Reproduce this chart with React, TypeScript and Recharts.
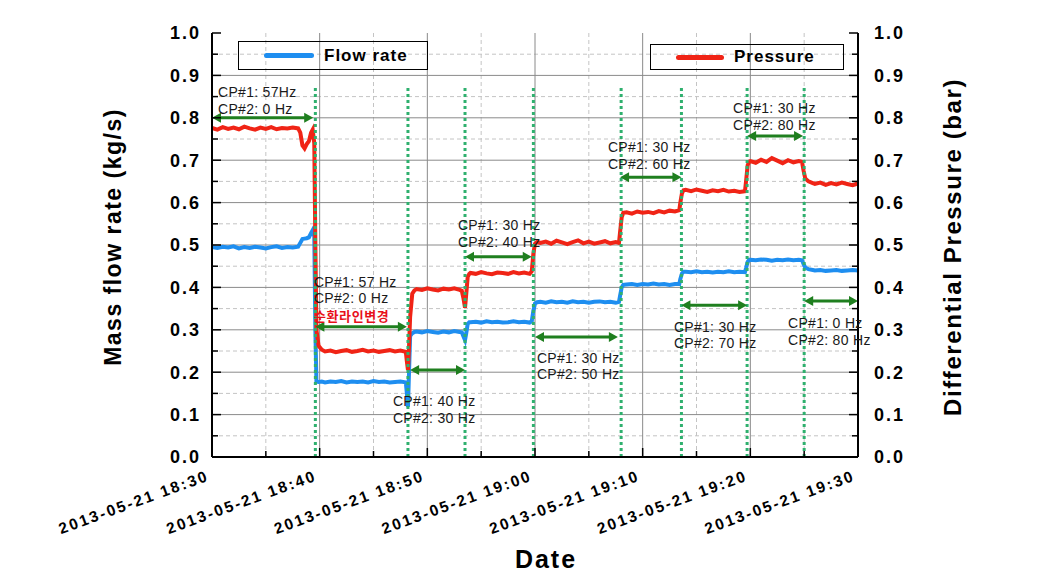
import React from 'react';
import { LineChart, Line, XAxis, YAxis, ReferenceLine, ReferenceDot } from 'recharts';

// minutes after 2013-05-21 18:30
const times = [
  0, 0.5, 1, 1.5, 2, 2.5, 3, 3.5, 4, 4.5, 5, 5.5, 6, 6.5, 7, 7.5, 8,
  8.2, 8.4, 8.6, 8.8, 9, 9.2, 9.35, 9.5, 9.6, 9.7, 9.9,
  10.2, 10.5, 11, 11.5, 12, 12.5, 13, 13.5, 14, 14.5, 15, 15.5, 16, 16.5, 17, 17.5, 18,
  18.1, 18.2, 18.3, 18.4, 18.6, 18.8,
  19, 19.5, 20, 20.5, 21, 21.5, 22, 22.5, 23, 23.2,
  23.35, 23.5, 23.6, 23.75, 23.9,
  24, 24.5, 25, 25.5, 26, 26.5, 27, 27.5, 28, 28.5, 29, 29.5, 29.7,
  29.85, 30, 30.2,
  30.5, 31, 31.5, 32, 32.5, 33, 33.5, 34, 34.5, 35, 35.5, 36, 36.5, 37, 37.5, 37.8,
  37.9, 38.05, 38.2,
  38.5, 39, 39.5, 40, 40.5, 41, 41.5, 42, 42.5, 43, 43.4,
  43.5, 43.65, 43.8,
  44, 44.5, 45, 45.5, 46, 46.5, 47, 47.5, 48, 48.5, 49, 49.5,
  49.6, 49.75, 49.9,
  50, 50.5, 51, 51.5, 52, 52.5, 53, 53.5, 54, 54.5, 54.8,
  54.95, 55.1, 55.4, 55.8,
  56, 56.5, 57, 57.5, 58, 58.5, 59, 59.5, 60,
];

const flowRate = [
  0.495, 0.493, 0.496, 0.494, 0.497, 0.492, 0.495, 0.493, 0.496, 0.494, 0.492, 0.495, 0.497, 0.493, 0.495, 0.494, 0.496,
  0.505, 0.514, 0.515, 0.516, 0.518, 0.528, 0.535, 0.52, 0.3, 0.178, 0.177,
  0.178, 0.176, 0.178, 0.177, 0.179, 0.176, 0.178, 0.177, 0.178, 0.176, 0.179, 0.177, 0.178, 0.176, 0.177, 0.178, 0.176,
  0.15, 0.118, 0.2, 0.285, 0.292, 0.295,
  0.296, 0.294, 0.297, 0.295, 0.293, 0.296, 0.294, 0.297, 0.295, 0.294,
  0.285, 0.276, 0.29, 0.314, 0.318,
  0.318, 0.319, 0.317, 0.32, 0.318, 0.319, 0.317, 0.318, 0.32, 0.318, 0.319, 0.317, 0.32,
  0.345, 0.362, 0.365,
  0.366, 0.364, 0.367, 0.365, 0.366, 0.364, 0.367, 0.365, 0.366, 0.364, 0.366, 0.367, 0.365, 0.366, 0.364, 0.366,
  0.38, 0.4, 0.406,
  0.407, 0.408, 0.406, 0.408, 0.407, 0.409, 0.407, 0.408, 0.406, 0.408, 0.408,
  0.42, 0.433, 0.437,
  0.437, 0.436, 0.438, 0.436, 0.437, 0.435, 0.437, 0.436, 0.438, 0.436, 0.437, 0.436,
  0.445, 0.46, 0.465,
  0.465, 0.464, 0.466, 0.465, 0.463, 0.465, 0.464, 0.466, 0.464, 0.465, 0.464,
  0.455, 0.447, 0.443, 0.441,
  0.44, 0.441, 0.439, 0.44, 0.441, 0.439, 0.44, 0.441, 0.44,
];

const pressure = [
  0.776, 0.772, 0.778, 0.774, 0.777, 0.773, 0.779, 0.775, 0.772, 0.777, 0.774, 0.778, 0.773, 0.776, 0.775, 0.777, 0.775,
  0.765, 0.735, 0.728, 0.738, 0.745, 0.765, 0.772, 0.74, 0.5, 0.3, 0.262,
  0.253, 0.249, 0.251, 0.247, 0.25, 0.252, 0.248, 0.25, 0.253, 0.249, 0.251, 0.248, 0.25, 0.252, 0.249, 0.251, 0.248,
  0.225, 0.205, 0.26, 0.33, 0.385, 0.393,
  0.396, 0.394, 0.398, 0.395, 0.393, 0.397, 0.395, 0.398, 0.394, 0.392,
  0.375, 0.352, 0.38, 0.425, 0.432,
  0.434, 0.432, 0.436, 0.433, 0.431, 0.435, 0.434, 0.432, 0.436, 0.433, 0.435, 0.432, 0.438,
  0.48, 0.503, 0.507,
  0.505, 0.508, 0.503, 0.51, 0.506, 0.502, 0.507, 0.511, 0.504, 0.508, 0.503, 0.506, 0.509, 0.504, 0.507, 0.505,
  0.53, 0.565, 0.576,
  0.577, 0.574, 0.579, 0.576, 0.578, 0.575, 0.58, 0.577, 0.581, 0.579, 0.582,
  0.6, 0.622, 0.629,
  0.63, 0.627, 0.631, 0.628, 0.625, 0.629, 0.627, 0.63, 0.626, 0.628, 0.625, 0.627,
  0.65, 0.688, 0.697,
  0.698, 0.694, 0.701, 0.696, 0.705, 0.699, 0.693, 0.7, 0.695, 0.698, 0.696,
  0.675, 0.657, 0.65, 0.646,
  0.644, 0.647, 0.642, 0.646, 0.643, 0.647, 0.644, 0.641, 0.645,
];

const xTickLabels = [
  '2013-05-21 18:30', '2013-05-21 18:40', '2013-05-21 18:50', '2013-05-21 19:00',
  '2013-05-21 19:10', '2013-05-21 19:20', '2013-05-21 19:30',
];
const xTicks = [0, 5, 10, 15, 20, 25, 30, 35, 40, 45, 50, 55, 60];
const yTicks = [0, 0.05, 0.1, 0.15, 0.2, 0.25, 0.3, 0.35, 0.4, 0.45, 0.5, 0.55, 0.6, 0.65, 0.7, 0.75, 0.8, 0.85, 0.9, 0.95, 1];
const yTickLabels = ['0.0', '0.1', '0.2', '0.3', '0.4', '0.5', '0.6', '0.7', '0.8', '0.9', '1.0'];

const majorGridX = [10, 20, 30, 40, 50];
const minorGridX = [5, 15, 25, 35, 45, 55];
const majorGridY = [0.1, 0.2, 0.3, 0.4, 0.5, 0.6, 0.7, 0.8, 0.9];
const minorGridY = [0.05, 0.15, 0.25, 0.35, 0.45, 0.55, 0.65, 0.75, 0.85, 0.95];

// pump setting change times (dotted markers)
const switchTimes = [9.6, 18.2, 23.5, 29.85, 38.0, 43.6, 49.7, 55.0];
const switchTop = 0.87;

// double arrows: start, end, level
const arrowStart = [0, 9.6, 18.4, 23.5, 30.0, 37.9, 43.6, 49.7, 55.0];
const arrowEnd = [9.4, 18.1, 23.5, 29.7, 37.7, 43.6, 49.7, 54.9, 60];
const arrowLevel = [0.8, 0.307, 0.205, 0.472, 0.283, 0.66, 0.358, 0.757, 0.368];

// annotation text anchors (first line baseline)
const noteTime = [0.56, 9.47, 16.8, 22.84, 30.18, 36.77, 42.9, 48.4, 53.5];
const noteValue = [0.849, 0.401, 0.12, 0.535, 0.222, 0.719, 0.295, 0.811, 0.304];
const noteLines = [
  ['CP#1: 57Hz', 'CP#2: 0 Hz'],
  ['CP#1: 57 Hz', 'CP#2: 0 Hz', '순환라인변경'],
  ['CP#1: 40 Hz', 'CP#2: 30 Hz'],
  ['CP#1: 30 Hz', 'CP#2: 40 Hz'],
  ['CP#1: 30 Hz', 'CP#2: 50 Hz'],
  ['CP#1: 30 Hz', 'CP#2: 60 Hz'],
  ['CP#1: 30 Hz', 'CP#2: 70 Hz'],
  ['CP#1: 30 Hz', 'CP#2: 80 Hz'],
  ['CP#1: 0 Hz', 'CP#2: 80 Hz'],
];

const data = times.map((t, i) => ({ t, flow: flowRate[i], pressure: pressure[i] }));

const FONT = "Arial, 'Liberation Sans', sans-serif";
const CJK_FONT = "'Noto Sans CJK KR', sans-serif";
const BLUE = '#1e8ef0';
const RED = '#f02416';
const GREEN = '#1f7f1f';
const DOTGREEN = '#2fb06e';

const isMajorY = (v: number) => Math.round(v * 100) % 10 === 0;
const isKorean = (s: string) => /[가-힣]/.test(s);

const BottomTick = (props: any) => {
  const { x, y, payload } = props;
  const v = payload.value;
  const major = v % 10 === 0;
  const lx = x - 2;
  const ly = y + 23;
  return (
    <g>
      <line x1={x} y1={y} x2={x} y2={y - (major ? 9 : 6)} stroke="#000" strokeWidth={1.5} />
      {major && (
        <text
          x={lx}
          y={ly}
          textAnchor="end"
          transform={`rotate(-20 ${lx} ${ly})`}
          fontFamily={FONT}
          fontWeight="bold"
          fontSize={15.5}
          letterSpacing={2.2}
          fill="#000"
        >
          {xTickLabels[v / 10]}
        </text>
      )}
    </g>
  );
};

const TopTick = (props: any) => {
  const { x, y, payload } = props;
  const major = payload.value % 10 === 0;
  return <line x1={x} y1={y} x2={x} y2={y + (major ? 9 : 6)} stroke="#000" strokeWidth={1.5} />;
};

const LeftTick = (props: any) => {
  const { x, y, payload } = props;
  const v = payload.value;
  const major = isMajorY(v);
  return (
    <g>
      <line x1={x} y1={y} x2={x + (major ? 9 : 6)} y2={y} stroke="#000" strokeWidth={1.5} />
      {major && (
        <text x={x - 11} y={y} dy="0.36em" textAnchor="end" fontFamily={FONT} fontWeight="bold" fontSize={18} letterSpacing={2} fill="#000">
          {yTickLabels[Math.round(v * 10)]}
        </text>
      )}
    </g>
  );
};

const RightTick = (props: any) => {
  const { x, y, payload } = props;
  const v = payload.value;
  const major = isMajorY(v);
  return (
    <g>
      <line x1={x} y1={y} x2={x - (major ? 9 : 6)} y2={y} stroke="#000" strokeWidth={1.5} />
      {major && (
        <text x={x + 16} y={y} dy="0.36em" textAnchor="start" fontFamily={FONT} fontWeight="bold" fontSize={18} letterSpacing={2} fill="#000">
          {yTickLabels[Math.round(v * 10)]}
        </text>
      )}
    </g>
  );
};

const DoubleArrow = (p: any) => {
  const { x1, y1, x2, y2 } = p;
  const h = 9;
  const w = 5;
  return (
    <g>
      <line x1={x1 + h - 1} y1={y1} x2={x2 - h + 1} y2={y2} stroke={GREEN} strokeWidth={3} />
      <polygon points={`${x1},${y1} ${x1 + h},${y1 - w} ${x1 + h},${y1 + w}`} fill={GREEN} />
      <polygon points={`${x2},${y2} ${x2 - h},${y2 - w} ${x2 - h},${y2 + w}`} fill={GREEN} />
    </g>
  );
};

const makeNote = (lines: string[]) => (p: any) => (
  <g>
    {lines.map((s, i) => (
      <text
        key={i}
        x={p.cx}
        y={p.cy + i * 16.5 + (isKorean(s) ? 1 : 0)}
        fontFamily={isKorean(s) ? CJK_FONT : FONT}
        fontSize={isKorean(s) ? 13 : 14}
        letterSpacing={isKorean(s) ? 0.6 : 0.3}
        fill={isKorean(s) ? '#e8101a' : '#1a1a1a'}
        fontWeight={isKorean(s) ? 'bold' : 'normal'}
      >
        {s}
      </text>
    ))}
  </g>
);

const LeftTitle = () => (
  <text x={105} y={229} transform="rotate(-90 105 229)" textAnchor="middle" dominantBaseline="central" fontFamily={FONT} fontWeight="bold" fontSize={23} letterSpacing={1.5} fill="#000">
    Mass flow rate (kg/s)
  </text>
);
const RightTitle = () => (
  <text x={944} y={239} transform="rotate(-90 944 239)" textAnchor="middle" dominantBaseline="central" fontFamily={FONT} fontWeight="bold" fontSize={24} letterSpacing={1.6} fill="#000">
    Differential Pressure (bar)
  </text>
);
const BottomTitle = () => (
  <text x={538} y={560} textAnchor="middle" fontFamily={FONT} fontWeight="bold" fontSize={25} letterSpacing={2} fill="#000">
    Date
  </text>
);

const legendBox: React.CSSProperties = {
  position: 'absolute',
  border: '1px solid #000',
  boxSizing: 'border-box',
  display: 'flex',
  alignItems: 'center',
  fontFamily: FONT,
  fontWeight: 'bold',
  fontSize: 17,
  letterSpacing: 1,
  color: '#000',
};

export default function App() {
  return (
    <div style={{ position: 'relative', width: 1040, height: 575 }}>
      <LineChart width={1040} height={575} data={data} margin={{ top: 25, right: 130, bottom: 26, left: 144 }}>
        <XAxis
          dataKey="t"
          type="number"
          domain={[0, 60]}
          ticks={xTicks}
          interval={0}
          height={100}
          tickSize={0}
          tickMargin={0}
          tickLine={false}
          tick={<BottomTick />}
          axisLine={{ stroke: '#000', strokeWidth: 2 }}
          label={{ content: () => <BottomTitle /> }}
        />
        <XAxis
          xAxisId="top"
          orientation="top"
          dataKey="t"
          type="number"
          domain={[0, 60]}
          ticks={xTicks}
          interval={0}
          height={0}
          tickSize={0}
          tickMargin={0}
          tickLine={false}
          tick={<TopTick />}
          axisLine={{ stroke: '#000', strokeWidth: 2 }}
        />
        <YAxis
          yAxisId="left"
          type="number"
          domain={[0, 1]}
          ticks={yTicks}
          interval={0}
          width={60}
          tickSize={0}
          tickMargin={0}
          tickLine={false}
          tick={<LeftTick />}
          axisLine={{ stroke: '#000', strokeWidth: 2 }}
          label={{ content: () => <LeftTitle /> }}
        />
        <YAxis
          yAxisId="right"
          orientation="right"
          type="number"
          domain={[0, 1]}
          ticks={yTicks}
          interval={0}
          width={60}
          tickSize={0}
          tickMargin={0}
          tickLine={false}
          tick={<RightTick />}
          axisLine={{ stroke: '#000', strokeWidth: 2 }}
          label={{ content: () => <RightTitle /> }}
        />

        {minorGridX.map((v) => (
          <ReferenceLine key={`mx${v}`} x={v} yAxisId="left" stroke="#c4c4c4" strokeDasharray="4 3" strokeWidth={1} />
        ))}
        {minorGridY.map((v) => (
          <ReferenceLine key={`my${v}`} y={v} yAxisId="left" stroke="#c4c4c4" strokeDasharray="4 3" strokeWidth={1} />
        ))}
        {majorGridX.map((v) => (
          <ReferenceLine key={`gx${v}`} x={v} yAxisId="left" stroke="#8a8a8a" strokeWidth={1} />
        ))}
        {majorGridY.map((v) => (
          <ReferenceLine key={`gy${v}`} y={v} yAxisId="left" stroke="#8a8a8a" strokeWidth={1} />
        ))}

        <Line type="linear" dataKey="flow" yAxisId="left" stroke={BLUE} strokeWidth={4} dot={false} isAnimationActive={false} />
        <Line type="linear" dataKey="pressure" yAxisId="right" stroke={RED} strokeWidth={4} dot={false} isAnimationActive={false} />

        {switchTimes.map((t) => (
          <ReferenceLine
            key={`sw${t}`}
            yAxisId="left"
            segment={[{ x: t, y: 0 }, { x: t, y: switchTop }]}
            stroke={DOTGREEN}
            strokeWidth={3}
            strokeDasharray="3 3"
          />
        ))}
        {arrowLevel.map((v, i) => (
          <ReferenceLine
            key={`ar${i}`}
            yAxisId="left"
            segment={[{ x: arrowStart[i], y: v }, { x: arrowEnd[i], y: v }]}
            shape={(p: any) => <DoubleArrow {...p} />}
          />
        ))}
        {noteLines.map((lines, i) => (
          <ReferenceDot
            key={`nt${i}`}
            yAxisId="left"
            x={noteTime[i]}
            y={noteValue[i]}
            r={0}
            shape={makeNote(lines)}
          />
        ))}
      </LineChart>

      <div style={{ ...legendBox, left: 230, top: 33, width: 190, height: 29 }}>
        <div style={{ marginLeft: 25, width: 50, height: 5, borderRadius: 3, background: BLUE }} />
        <span style={{ marginLeft: 10 }}>Flow rate</span>
      </div>
      <div style={{ ...legendBox, left: 642, top: 36, width: 194, height: 26 }}>
        <div style={{ marginLeft: 25, width: 48, height: 5, borderRadius: 3, background: RED }} />
        <span style={{ marginLeft: 10 }}>Pressure</span>
      </div>
    </div>
  );
}
